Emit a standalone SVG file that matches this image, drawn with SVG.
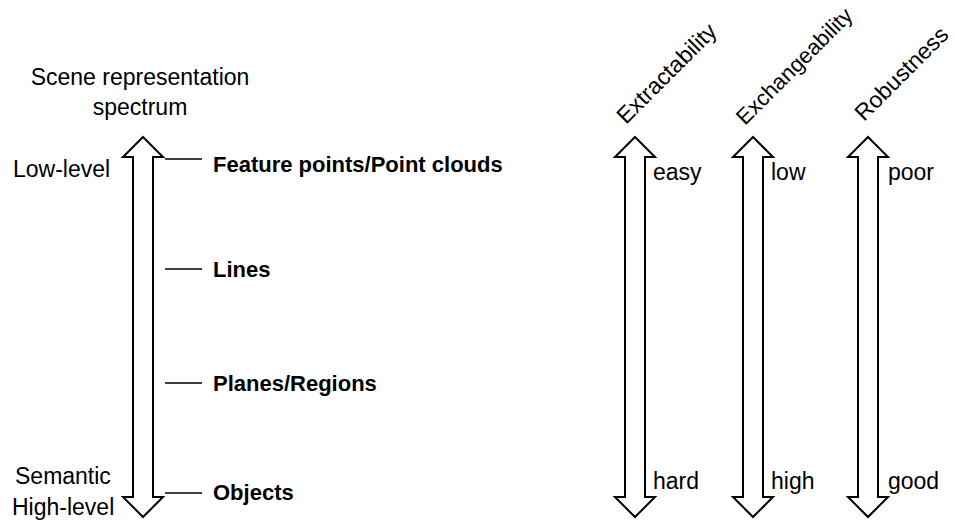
<svg xmlns="http://www.w3.org/2000/svg" width="955" height="521" viewBox="0 0 955 521">
  <style>
    .t { font-family: "Liberation Sans", Arial, sans-serif; font-size: 23px; fill: #000; }
    .b { font-family: "Liberation Sans", Arial, sans-serif; font-size: 22px; font-weight: bold; fill: #000; }
    .arrow { fill: #fff; stroke: #000; stroke-width: 2; stroke-linejoin: miter; }
    .tick { stroke: #000; stroke-width: 1.5; }
  </style>
  <defs>
    <!-- double-headed block arrow, centred on x=0 -->
    <path id="dbl" d="M0,137 L20,157 L10,157 L10,497 L20,497 L0,517 L-20,497 L-10,497 L-10,157 L-20,157 Z"/>
  </defs>
  <rect width="955" height="521" fill="#fff"/>

  <!-- spectrum axis -->
  <g id="spectrum">
    <text class="t" x="140" y="85" text-anchor="middle">Scene representation</text>
    <text class="t" x="140" y="115" text-anchor="middle">spectrum</text>
    <use href="#dbl" class="arrow" x="143"/>
    <text class="t" x="13" y="177">Low-level</text>
    <text class="t" x="15" y="484">Semantic</text>
    <text class="t" x="12" y="515">High-level</text>
  </g>

  <!-- ticks linking the axis to each representation -->
  <g id="connectors">
    <line class="tick" x1="165" y1="159" x2="202" y2="159"/>
    <line class="tick" x1="165" y1="269" x2="202" y2="269"/>
    <line class="tick" x1="165" y1="383" x2="202" y2="383"/>
    <line class="tick" x1="165" y1="493" x2="202" y2="493"/>
  </g>

  <g id="feature-points"><text class="b" x="213" y="172">Feature points/Point clouds</text></g>
  <g id="lines"><text class="b" x="213" y="277">Lines</text></g>
  <g id="planes"><text class="b" x="213" y="391">Planes/Regions</text></g>
  <g id="objects"><text class="b" x="213" y="500">Objects</text></g>

  <!-- property scales -->
  <g id="extractability">
    <text class="t" transform="translate(626,125) rotate(-45)">Extractability</text>
    <use href="#dbl" class="arrow" x="635"/>
    <text class="t" x="653" y="180">easy</text>
    <text class="t" x="653" y="489">hard</text>
  </g>
  <g id="exchangeability">
    <text class="t" transform="translate(745,126) rotate(-45)" style="font-size:22px">Exchangeability</text>
    <use href="#dbl" class="arrow" x="753"/>
    <text class="t" x="771" y="180">low</text>
    <text class="t" x="771" y="489">high</text>
  </g>
  <g id="robustness">
    <text class="t" transform="translate(864,122) rotate(-45)">Robustness</text>
    <use href="#dbl" class="arrow" x="868"/>
    <text class="t" x="888" y="180">poor</text>
    <text class="t" x="888" y="489">good</text>
  </g>
</svg>
